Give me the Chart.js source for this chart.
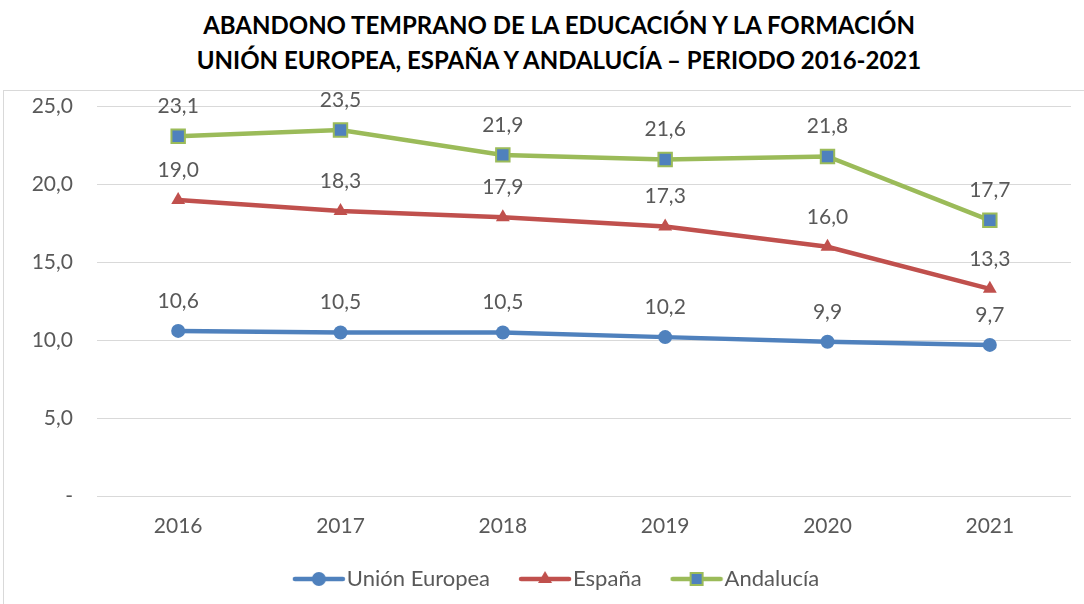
<!DOCTYPE html>
<html>
<head>
<meta charset="utf-8">
<script src="https://cdn.jsdelivr.net/npm/chart.js@4"></script>
<style>
  html, body { margin: 0; padding: 0; background: #fff; overflow: hidden; }
  #titulo {
    position: absolute; left: 0; top: 0; width: 1118px; height: 90px;
    text-align: center; font-family: "Lato", sans-serif; font-weight: bold;
    font-size: 24px; line-height: 35px; color: #000; padding-top: 7px; box-sizing: border-box;
  }
  #caja {
    position: absolute; left: 3px; top: 90px; width: 1081px; height: 514px;
    border: 1px solid #d9d9d9; border-right: none; border-bottom: none; box-sizing: border-box;
  }
  #grafico { position: absolute; left: 4px; top: 70px; display: block; }
</style>
</head>
<body>
<div id="titulo">ABANDONO TEMPRANO DE LA EDUCACIÓN Y LA FORMACIÓN<br>UNIÓN EUROPEA, ESPAÑA Y ANDALUCÍA – PERIODO 2016-2021</div>
<div id="caja"></div>
<canvas id="grafico" width="1080" height="542"></canvas>
<script>
var anios = ['2016', '2017', '2018', '2019', '2020', '2021'];
var unionEuropea = [10.6, 10.5, 10.5, 10.2, 9.9, 9.7];
var espana = [19.0, 18.3, 17.9, 17.3, 16.0, 13.3];
var andalucia = [23.1, 23.5, 21.9, 21.6, 21.8, 17.7];

var gris = '#595959';
var fuente = 'Lato, "Open Sans", sans-serif';

function coma(v) {
    return v.toFixed(1).replace('.', ',');
}

// etiquetas de datos encima de cada punto
var etiquetas = {
    id: 'etiquetas',
    afterDatasetsDraw: function (chart) {
        var ctx = chart.ctx;
        ctx.save();
        ctx.font = '21px ' + fuente;
        ctx.fillStyle = gris;
        ctx.textAlign = 'center';
        ctx.textBaseline = 'middle';
        chart.data.datasets.forEach(function (ds, i) {
            chart.getDatasetMeta(i).data.forEach(function (p, j) {
                ctx.fillText(coma(ds.data[j]), p.x, p.y - 30);
            });
        });
        ctx.restore();
    }
};

// la leyenda del original no esta centrada del todo
var moverLeyenda = {
    id: 'moverLeyenda',
    afterLayout: function (chart) {
        var l = chart.legend;
        l.left += 23; l.right += 23;
        l.top -= 8; l.bottom -= 8;
    }
};

// icono de leyenda: linea con marcador
function icono(color, estilo, relleno, borde) {
    var c = document.createElement('canvas');
    c.width = 54; c.height = 20;
    var g = c.getContext('2d');
    g.strokeStyle = color; g.lineWidth = 4.5; g.lineCap = 'round';
    g.beginPath(); g.moveTo(3, 10); g.lineTo(51, 10); g.stroke();
    g.fillStyle = relleno;
    if (estilo === 'circle') {
        g.beginPath(); g.arc(27, 10, 7, 0, Math.PI * 2); g.fill();
    } else if (estilo === 'triangle') {
        g.beginPath(); g.moveTo(27, 2); g.lineTo(34, 14); g.lineTo(20, 14); g.closePath(); g.fill();
    } else {
        g.fillRect(21, 4, 12, 12);
        g.strokeStyle = borde; g.lineWidth = 2;
        g.strokeRect(21, 4, 12, 12);
    }
    return c;
}

var iconos = [
    icono('#4f81bd', 'circle', '#4f81bd'),
    icono('#c0504d', 'triangle', '#c0504d'),
    icono('#9bbb59', 'rect', '#4f81bd', '#9bbb59')
];

var ctx = document.getElementById('grafico').getContext('2d');
var grafico = new Chart(ctx, {
    type: 'line',
    data: {
        labels: anios,
        datasets: [{
            label: 'Unión Europea',
            data: unionEuropea,
            borderColor: '#4f81bd',
            backgroundColor: '#4f81bd',
            borderWidth: 4.5,
            pointStyle: 'circle',
            pointRadius: 7,
            pointBorderWidth: 0
        }, {
            label: 'España',
            data: espana,
            borderColor: '#c0504d',
            backgroundColor: '#c0504d',
            borderWidth: 4.5,
            pointStyle: 'triangle',
            pointRadius: 8,
            pointBorderWidth: 0
        }, {
            label: 'Andalucía',
            data: andalucia,
            borderColor: '#9bbb59',
            backgroundColor: '#4f81bd',
            pointBorderColor: '#9bbb59',
            borderWidth: 4.5,
            pointStyle: 'rect',
            pointRadius: 9.5,
            pointBorderWidth: 2
        }]
    },
    options: {
        responsive: false,
        animation: false,
        layout: { padding: { top: 0, right: 13, bottom: 4, left: 0 } },
        plugins: {
            legend: {
                position: 'bottom',
                labels: {
                    usePointStyle: true,
                    pointStyleWidth: 34,
                    color: gris,
                    font: { size: 22, family: fuente },
                    padding: 38,
                    generateLabels: function (chart) {
                        return chart.data.datasets.map(function (ds, i) {
                            return {
                                text: ds.label,
                                pointStyle: iconos[i],
                                fillStyle: ds.borderColor,
                                strokeStyle: ds.borderColor,
                                fontColor: gris,
                                lineWidth: 0,
                                datasetIndex: i,
                                hidden: false
                            };
                        });
                    }
                }
            },
            tooltip: { enabled: false }
        },
        scales: {
            x: {
                offset: true,
                grid: { display: false, drawTicks: false },
                border: { display: false },
                ticks: { color: gris, font: { size: 21, family: fuente }, padding: 18 },
                afterFit: function (s) { s.height = 42; }
            },
            y: {
                min: 0,
                max: 25,
                afterFit: function (s) { s.width = 93; },
                grid: { color: '#d9d9d9', lineWidth: 1, drawTicks: false },
                border: { display: false },
                ticks: {
                    stepSize: 5,
                    color: gris,
                    font: { size: 21, family: fuente },
                    padding: 24,
                    callback: function (v) { return v === 0 ? '-' : coma(v); }
                }
            }
        }
    },
    plugins: [etiquetas, moverLeyenda]
});
</script>
</body>
</html>
